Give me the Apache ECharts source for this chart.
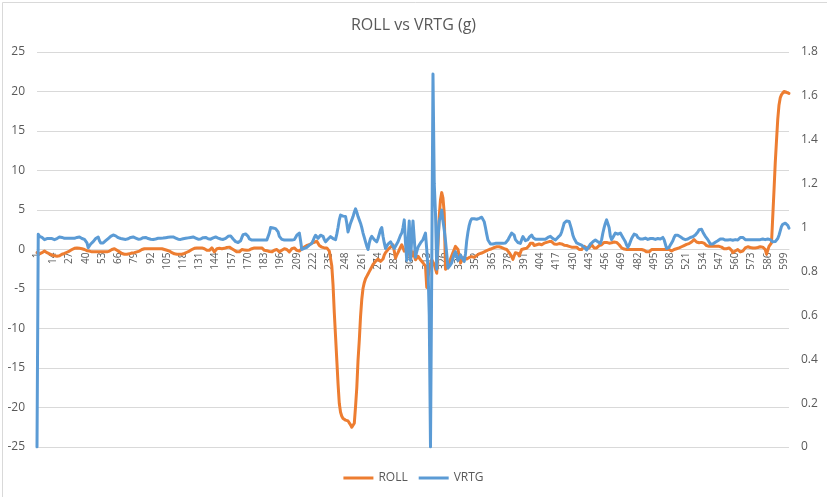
<!DOCTYPE html>
<html>
<head>
<meta charset="utf-8">
<script src="https://cdn.jsdelivr.net/npm/echarts@6/dist/echarts.min.js"></script>
<style>html,body{margin:0;padding:0;background:#fff;}#c{width:827px;height:497px;}</style>
</head>
<body>
<div id="c"></div>
<script>
const titleText = 'ROLL vs VRTG (g)';
const seriesNames = ['ROLL', 'VRTG'];
const pointCount = 603;
const categories = Array.from({length: pointCount}, (_, i) => String(i + 1));
const leftTicks = {min: -25, max: 25, interval: 5};
const rightTicks = {min: 0, max: 1.8, interval: 0.2};

const roll = [
-0.4,-0.45,-0.55,-0.5,-0.4,-0.3,-0.2,-0.3,-0.4,-0.5,
-0.55,-0.6,-0.7,-0.75,-0.8,-0.85,-0.85,-0.85,-0.8,-0.7,
-0.6,-0.55,-0.5,-0.4,-0.35,-0.3,-0.2,-0.1,0,0.1,
0.15,0.2,0.2,0.2,0.15,0.1,0.1,0.1,0,-0.1,
-0.15,-0.2,-0.2,-0.25,-0.3,-0.3,-0.3,-0.3,-0.3,-0.3,
-0.3,-0.3,-0.3,-0.3,-0.3,-0.3,-0.3,-0.3,-0.2,-0.1,
0,0.1,0.1,0,-0.1,-0.2,-0.3,-0.4,-0.5,-0.55,
-0.6,-0.6,-0.6,-0.6,-0.55,-0.5,-0.45,-0.4,-0.4,-0.35,
-0.3,-0.25,-0.2,-0.1,0,0.05,0.1,0.1,0.1,0.1,
0.1,0.1,0.1,0.1,0.1,0.1,0.1,0.1,0.1,0.1,
0.1,0.05,0,-0.05,-0.1,-0.15,-0.2,-0.3,-0.4,-0.5,
-0.55,-0.6,-0.6,-0.6,-0.6,-0.6,-0.6,-0.6,-0.5,-0.4,
-0.35,-0.3,-0.2,-0.1,0,0.1,0.15,0.2,0.2,0.2,
0.2,0.2,0.2,0.2,0.1,0,-0.1,-0.2,-0.1,0.1,
0.2,0,-0.3,-0.1,0.1,0.2,0.15,0.1,0.1,0.1,
0.15,0.2,0.25,0.3,0.3,0.2,0.1,0,-0.1,-0.2,
-0.3,-0.35,-0.3,-0.2,0,0,-0.05,-0.1,-0.1,-0.1,
-0.05,0,0.1,0.15,0.2,0.2,0.2,0.2,0.2,0.2,
0.2,0.1,-0.1,-0.1,-0.15,-0.2,-0.25,-0.3,-0.3,-0.2,
-0.1,0,0,-0.2,-0.3,-0.2,-0.1,0,0.1,0.1,
0,-0.2,-0.3,-0.1,0.1,0.2,0.2,0.1,-0.1,-0.2,
-0.2,-0.1,0.1,0.2,0.3,0.4,0.5,0.5,0.6,0.7,
0.8,0.85,0.9,1.0,1.05,0.8,0.5,0.4,0.3,0.2,
0.2,0.2,0.2,0.2,-0.2,-0.4,-2.1,-4.5,-8,-11,
-14,-17,-19.5,-20.6,-21.1,-21.4,-21.5,-21.6,-21.7,-21.7,
-21.8,-22.2,-22.5,-22.3,-22,-19.9,-17.5,-14,-11.5,-8.5,
-6.3,-4.9,-4.2,-3.7,-3.4,-3.1,-2.8,-2.5,-2.2,-1.9,
-1.7,-1.5,-1.3,-1.2,-1.3,-1.5,-1.7,-1.2,-0.7,-0.4,
-0.2,0,0.2,0.3,0.5,0.6,-0.2,-1.1,-0.7,-0.4,
-0.2,0.3,0.6,0.2,-0.2,-0.4,0,0.2,-0.5,-1.2,
-0.7,-0.3,-0.8,-1.3,-1.1,-0.85,-1.1,-1.3,-1.5,-1.7,
-1.9,-2.1,-4.8,-3.5,-2.6,-1.8,-1.3,-1.6,-1.9,-2.1,
-3,0.5,4.2,6.3,7.2,6.5,4.6,-2.5,-2.3,-2.1,
-1.7,-1.2,-0.8,-0.4,0,0.4,0.2,0,-0.8,-1.7,
-1.4,-1.2,-1.0,-1.1,-1.2,-1.25,-1.0,-0.8,-0.9,-1.0,
-1.0,-0.9,-0.75,-0.6,-0.55,-0.5,-0.45,-0.4,-0.3,-0.25,
-0.15,-0.1,0,0.05,0.1,0.2,0.25,0.3,0.35,0.4,
0.35,0.3,0.25,0.2,0.1,0.05,0,-0.2,-0.4,-0.6,
-0.9,-1.25,-0.8,-0.4,-0.2,-0.5,-0.8,-0.4,0,0.05,
0.1,0.1,0.15,0.2,0.5,0.8,1.0,0.8,0.5,0.4,
0.6,0.8,0.7,0.65,0.6,0.7,0.8,0.85,0.9,0.95,
1.0,1.0,1.0,0.9,0.7,0.6,0.65,0.7,0.75,0.8,
0.7,0.6,0.55,0.5,0.5,0.45,0.4,0.35,0.3,0.3,
0.3,0.3,0.3,0.1,0,0,0,0.2,0.4,0.4,
0.2,0,0.2,0.4,0.6,0.4,0.2,0,0.2,0.4,
0.5,0.55,0.6,0.75,0.9,1.0,0.9,0.8,0.8,0.8,
0.85,0.9,0.95,1.0,0.9,0.8,0.6,0.4,0.2,0.1,
0.05,0,0,0,0,0,0,0,0,0,
0,0,0,0,0,0,-0.1,-0.2,-0.3,-0.4,
-0.3,-0.15,0,0,0,0,0,0,0,0,
0,0,0,0,0,0,0,0,-0.2,-0.1,
0,0,0.1,0.15,0.2,0.3,0.35,0.4,0.5,0.6,
0.65,0.7,0.75,0.8,0.95,1.1,1.25,1.1,0.95,0.8,
0.85,0.9,0.9,0.9,0.8,0.65,0.5,0.4,0.4,0.4,
0.4,0.4,0.4,0.4,0.4,0.4,0.4,0.4,0.3,0.2,
0.1,0,0.1,0.15,0.2,0.2,-0.1,-0.4,-0.3,-0.2,
-0.1,0,-0.15,-0.3,-0.4,-0.2,0,0.2,0.4,0.35,
0.3,0.25,0.2,0.2,0.2,0.2,0.2,0.25,0.3,0.35,
0.4,0.3,0.15,0,-0.6,-0.1,0.4,0.6,0.85,4.2,
7.5,11,13.8,16.5,18.3,19.2,19.6,19.8,20,20,
19.9,19.8,19.75
];

const vrtg = [
0,0.97,0.96,0.96,0.955,0.95,0.945,0.945,0.95,0.95,
0.95,0.95,0.95,0.945,0.945,0.946,0.95,0.955,0.957,0.957,
0.955,0.952,0.951,0.951,0.951,0.951,0.951,0.951,0.951,0.951,
0.951,0.951,0.955,0.957,0.957,0.955,0.95,0.948,0.946,0.946,
0.93,0.908,0.915,0.925,0.93,0.936,0.945,0.95,0.955,0.957,
0.94,0.93,0.925,0.93,0.935,0.94,0.946,0.95,0.955,0.96,
0.963,0.966,0.966,0.962,0.958,0.954,0.951,0.95,0.949,0.948,
0.947,0.946,0.946,0.949,0.952,0.955,0.957,0.957,0.955,0.952,
0.949,0.947,0.946,0.948,0.951,0.954,0.955,0.955,0.952,0.95,
0.948,0.947,0.946,0.946,0.947,0.948,0.95,0.951,0.951,0.951,
0.951,0.952,0.953,0.954,0.955,0.956,0.957,0.957,0.957,0.957,
0.955,0.952,0.949,0.947,0.946,0.946,0.947,0.949,0.95,0.951,
0.952,0.953,0.954,0.955,0.956,0.957,0.955,0.952,0.949,0.947,
0.946,0.948,0.951,0.954,0.957,0.955,0.952,0.949,0.946,0.947,
0.95,0.953,0.955,0.957,0.955,0.952,0.95,0.948,0.947,0.946,
0.948,0.951,0.955,0.96,0.964,0.962,0.955,0.948,0.94,0.936,
0.935,0.932,0.93,0.94,0.955,0.968,0.971,0.971,0.97,0.96,
0.948,0.945,0.943,0.943,0.943,0.943,0.943,0.943,0.943,0.943,
0.943,0.943,0.943,0.943,0.943,0.945,0.975,1.0,1.0,0.998,
0.996,0.995,0.994,0.98,0.96,0.952,0.946,0.943,0.943,0.943,
0.943,0.943,0.943,0.943,0.943,0.943,0.945,0.955,0.965,0.972,
0.975,0.94,0.9,0.902,0.905,0.908,0.91,0.915,0.92,0.925,
0.928,0.94,0.955,0.965,0.958,0.951,0.958,0.965,0.971,0.96,
0.945,0.935,0.94,0.948,0.955,0.959,0.955,0.95,0.946,0.945,
0.97,1.0,1.035,1.057,1.055,1.052,1.05,1.05,1.02,0.98,
1.0,1.02,1.035,1.05,1.07,1.085,1.07,1.05,1.035,1.02,
1.0,0.975,0.955,0.935,0.915,0.9,0.93,0.95,0.96,0.955,
0.945,0.938,0.935,0.95,0.97,0.99,1.0,0.96,0.93,0.905,
0.915,0.925,0.93,0.935,0.925,0.915,0.905,0.915,0.925,0.935,
0.95,0.965,0.975,1.0,1.035,0.93,0.85,0.94,1.03,0.85,
0.95,1.03,0.95,0.865,0.89,0.91,0.92,0.93,0.935,0.945,
0.96,0.975,0.9,0.815,0.6,0,0.8,1.7,1.2,1.065,
0.81,0.95,1.03,1.05,1.08,1.03,0.99,0.94,0.88,0.815,
0.82,0.83,0.84,0.86,0.88,0.89,0.87,0.85,0.86,0.875,
0.865,0.855,0.845,0.88,0.94,0.98,1.01,1.03,1.04,1.04,
1.04,1.038,1.038,1.04,1.042,1.045,1.047,1.04,1.027,1.0,
0.97,0.943,0.935,0.925,0.92,0.925,0.928,0.928,0.928,0.928,
0.928,0.928,0.928,0.928,0.928,0.93,0.935,0.943,0.955,0.965,
0.975,0.981,0.965,0.945,0.936,0.932,0.93,0.928,0.945,0.959,
0.95,0.94,0.936,0.945,0.955,0.962,0.966,0.955,0.948,0.947,
0.947,0.947,0.947,0.947,0.947,0.947,0.947,0.947,0.95,0.955,
0.958,0.96,0.955,0.95,0.946,0.943,0.948,0.955,0.96,0.966,
0.98,1.0,1.02,1.027,1.03,1.03,1.028,1.01,0.99,0.965,
0.95,0.94,0.93,0.925,0.925,0.922,0.92,0.915,0.91,0.905,
0.898,0.905,0.915,0.925,0.93,0.935,0.94,0.943,0.943,0.935,
0.93,0.928,0.945,0.975,1.0,1.02,1.035,1.04,1.0,0.96,
0.945,0.955,0.965,0.975,0.975,0.97,0.975,0.975,0.965,0.955,
0.945,0.935,0.92,0.91,0.92,0.935,0.95,0.96,0.97,0.977,
0.965,0.955,0.95,0.948,0.948,0.948,0.95,0.952,0.948,0.946,
0.948,0.95,0.952,0.95,0.948,0.946,0.948,0.95,0.948,0.948,
0.952,0.955,0.945,0.925,0.905,0.898,0.91,0.92,0.93,0.94,
0.955,0.965,0.97,0.965,0.96,0.958,0.955,0.95,0.947,0.945,
0.945,0.948,0.952,0.955,0.955,0.958,0.962,0.966,0.97,0.98,
0.99,0.997,0.992,0.98,0.97,0.96,0.955,0.945,0.935,0.925,
0.92,0.925,0.93,0.933,0.935,0.94,0.945,0.948,0.951,0.948,
0.945,0.943,0.943,0.943,0.943,0.945,0.943,0.942,0.943,0.945,
0.943,0.943,0.945,0.955,0.962,0.955,0.948,0.945,0.945,0.945,
0.948,0.945,0.943,0.945,0.95,0.945,0.943,0.945,0.948,0.945,
0.945,0.948,0.95,0.945,0.945,0.948,0.95,0.945,0.94,0.935,
0.936,0.936,0.94,0.95,0.965,0.985,1.005,1.015,1.02,1.02,
1.018,1.01,0.997
];

const textColor = '#595959';
const gridColor = '#d9d9d9';
const font = "'Open Sans', 'Noto Sans', sans-serif";

const chart = echarts.init(document.getElementById('c'), null, {renderer: 'canvas'});
chart.setOption({
  animation: false,
  backgroundColor: '#ffffff',
  textStyle: {fontFamily: font},
  title: {
    text: titleText,
    left: 'center',
    top: 12,
    textStyle: {fontSize: 16, fontWeight: 'normal', color: textColor, fontFamily: font}
  },
  graphic: [{
    type: 'rect', left: 0, top: 0, z: -1,
    shape: {x: 0.5, y: 0.5, width: 826, height: 496},
    style: {fill: 'none', stroke: gridColor, lineWidth: 1}
  }],
  legend: {
    data: seriesNames,
    bottom: 8,
    left: 'center',
    icon: 'rect',
    itemWidth: 30,
    itemHeight: 3,
    itemGap: 11,
    textStyle: {fontSize: 12, color: textColor, fontFamily: font}
  },
  grid: {left: 37, right: 38, top: 52, bottom: 50, containLabel: false},
  xAxis: {
    type: 'category',
    data: categories,
    boundaryGap: false,
    position: 'bottom',
    offset: -197.5,
    axisLine: {onZero: false, lineStyle: {color: gridColor, width: 1}},
    axisTick: {show: false},
    axisLabel: {interval: 12, rotate: 90, margin: 3, fontSize: 10, color: textColor, fontFamily: font},
    splitLine: {show: false},
    z: 0
  },
  yAxis: [
    {
      type: 'value', min: leftTicks.min, max: leftTicks.max, interval: leftTicks.interval,
      axisLine: {show: false}, axisTick: {show: false},
      axisLabel: {fontSize: 12, color: textColor, margin: 12, fontFamily: font},
      splitLine: {show: true, lineStyle: {color: gridColor, width: 1}}
    },
    {
      type: 'value', min: rightTicks.min, max: rightTicks.max, interval: rightTicks.interval,
      position: 'right',
      axisLine: {show: false}, axisTick: {show: false},
      axisLabel: {fontSize: 12, color: textColor, margin: 12, fontFamily: font},
      splitLine: {show: false}
    }
  ],
  series: [
    {
      name: seriesNames[0], type: 'line', yAxisIndex: 0, data: roll,
      showSymbol: false, symbol: 'none', z: 3,
      lineStyle: {color: '#ED7D31', width: 3, join: 'round', cap: 'round'},
      itemStyle: {color: '#ED7D31'}
    },
    {
      name: seriesNames[1], type: 'line', yAxisIndex: 1, data: vrtg,
      showSymbol: false, symbol: 'none', z: 3,
      lineStyle: {color: '#5B9BD5', width: 3, join: 'round', cap: 'round'},
      itemStyle: {color: '#5B9BD5'}
    }
  ]
});
</script>
</body>
</html>
